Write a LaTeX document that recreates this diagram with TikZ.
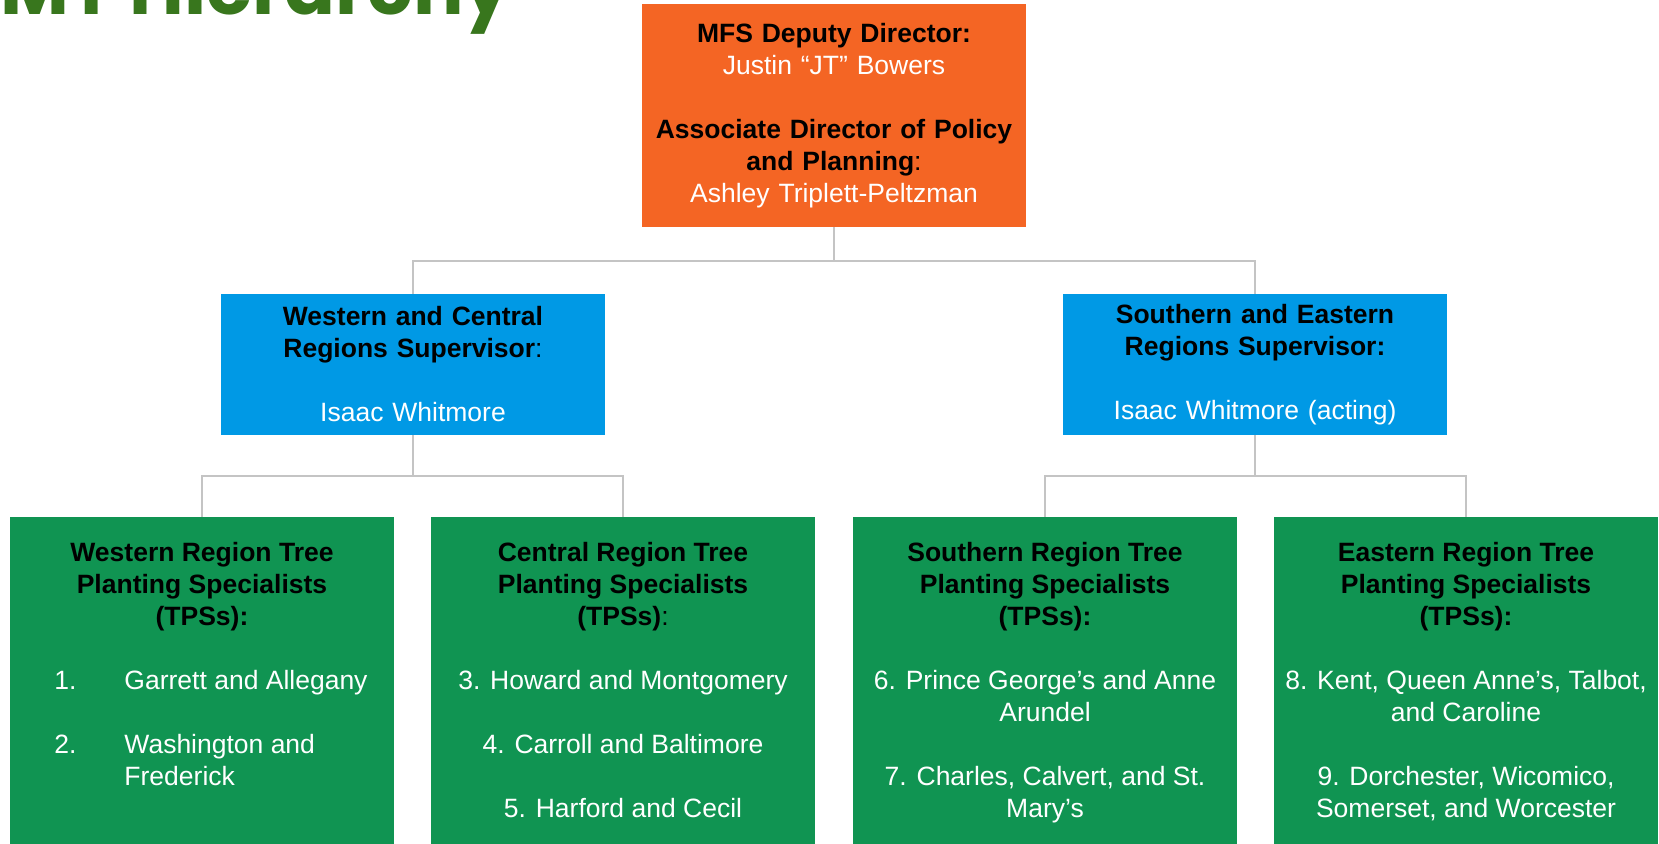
\documentclass[tikz,border=0pt]{standalone}
\usepackage{fontspec}
\setmainfont{Liberation Sans}
\newfontfamily\titlefont{Poppins}
\definecolor{mfsorange}{HTML}{F46524}
\definecolor{supblue}{HTML}{0099E5}
\definecolor{tpsgreen}{HTML}{109452}
\definecolor{titlegreen}{HTML}{38761D}
\definecolor{linegray}{HTML}{C4C4C4}
\newcommand{\hd}[1]{{\color{black}\bfseries #1}}
\newcommand{\tpsbody}[1]{\parbox[c][170pt][t]{192pt}{\centering\vspace*{12.8pt}#1}}

\begin{document}
\begin{tikzpicture}[x=0.5pt,y=-0.5pt,
  boxtext/.style={font=\fontsize{13.25pt}{16pt}\selectfont, text=white, inner sep=0pt, outer sep=0pt},
  topbox/.style={boxtext, fill=mfsorange, minimum width=192pt, minimum height=111.5pt, text width=186pt, align=center},
  supbox/.style={boxtext, fill=supblue, minimum width=192pt, minimum height=70.5pt, text width=186pt, align=center},
  tpsbox/.style={boxtext, fill=tpsgreen, anchor=north},
  conn/.style={draw=linegray, line width=1pt}]
\useasboundingbox (0,0) rectangle (1659,843);
\fill[white] (0,0) rectangle (1659,843);

\node[anchor=base west, inner sep=0pt, text=titlegreen, font=\titlefont\bfseries\fontsize{37.5pt}{40pt}\selectfont] (0) at (0,14) {MT Hierarchy};

\node[topbox] (1) at (834,115.5) {\hd{MFS Deputy Director:}\\Justin “JT” Bowers\\[16pt]\hd{Associate Director of Policy}\\\hd{and Planning}{\color{black}:}\\Ashley Triplett-Peltzman};
\node[supbox] (2) at (413,364.5) {\hd{Western and Central}\\\hd{Regions Supervisor}{\color{black}:}\\[16pt]Isaac Whitmore};
\node[supbox] (3) at (1255,364.5) {\hd{Southern and Eastern}\\\hd{Regions Supervisor:}\\[16pt]Isaac Whitmore (acting)};

\node[tpsbox] (4) at (202,517) {\tpsbody{\hd{Western Region Tree}\\\hd{Planting Specialists}\\\hd{(TPSs):}\\[16pt]\hspace*{9pt}\begin{tabular}[t]{@{}p{35pt}@{}l@{}}1.&Garrett and Allegany\\[16pt]2.&Washington and\\&Frederick\end{tabular}}};
\node[tpsbox] (5) at (623,517) {\tpsbody{\hd{Central Region Tree}\\\hd{Planting Specialists}\\\hd{(TPSs)}{\color{black}:}\\[16pt]3. Howard and Montgomery\\[16pt]4. Carroll and Baltimore\\[16pt]5. Harford and Cecil}};
\node[tpsbox] (6) at (1045,517) {\tpsbody{\hd{Southern Region Tree}\\\hd{Planting Specialists}\\\hd{(TPSs):}\\[16pt]6. Prince George’s and Anne\\Arundel\\[16pt]7. Charles, Calvert, and St.\\Mary’s}};
\node[tpsbox] (7) at (1466,517) {\tpsbody{\hd{Eastern Region Tree}\\\hd{Planting Specialists}\\\hd{(TPSs):}\\[16pt]8. Kent, Queen Anne’s, Talbot,\\and Caroline\\[16pt]9. Dorchester, Wicomico,\\Somerset, and Worcester}};

\path[conn] (1.south) -- ++(0,34) -| (2.north);
\path[conn] (1.south) -- ++(0,34) -| (3.north);
\path[conn] (2.south) -- ++(0,41) -| (4.north);
\path[conn] (2.south) -- ++(0,41) -| (5.north);
\path[conn] (3.south) -- ++(0,41) -| (6.north);
\path[conn] (3.south) -- ++(0,41) -| (7.north);
\end{tikzpicture}
\end{document}
